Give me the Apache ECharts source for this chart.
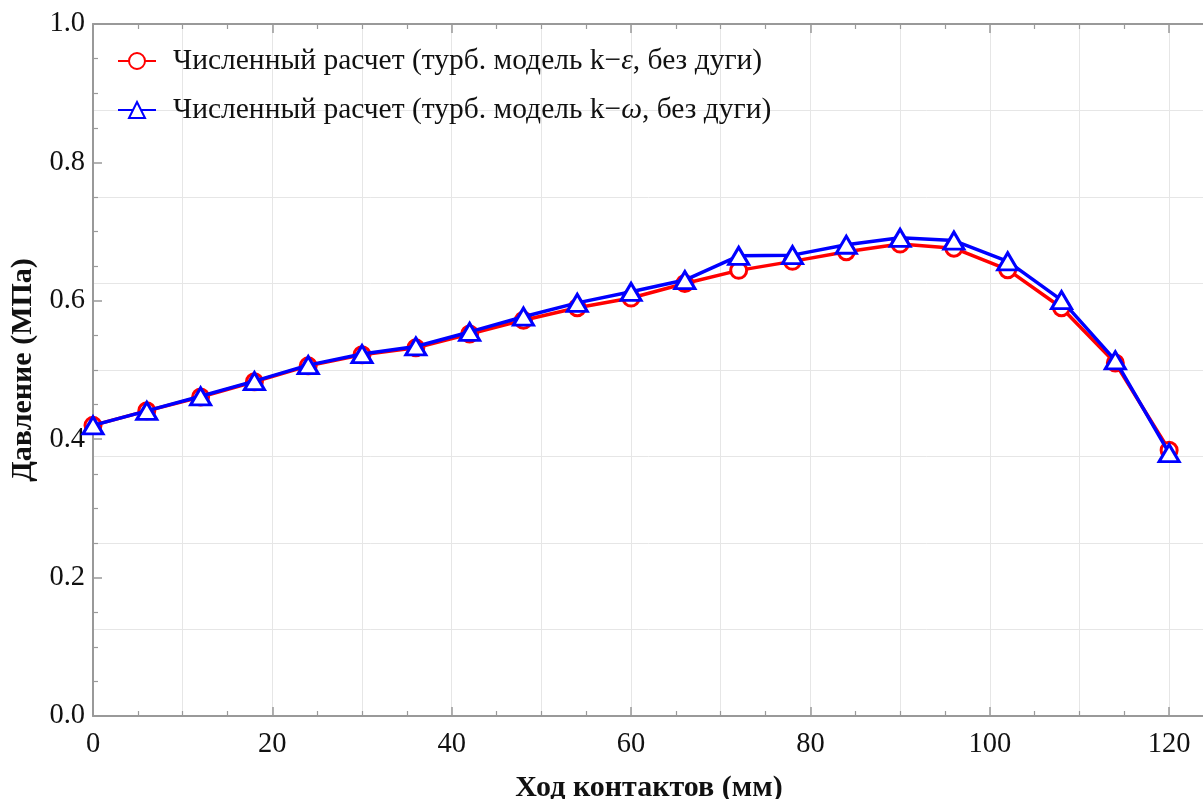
<!DOCTYPE html>
<html>
<head>
<meta charset="utf-8">
<script src="https://cdn.jsdelivr.net/npm/echarts@6/dist/echarts.min.js"></script>
<style>html,body{margin:0;padding:0;background:#fff}#c{width:1203px;height:799px}</style>
</head>
<body>
<div id="c"></div>
<script>
const xValues = [0,6,12,18,24,30,36,42,48,54,60,66,72,78,84,90,96,102,108,114,120];
const kEpsilon = [0.420,0.441,0.461,0.483,0.506,0.522,0.532,0.552,0.572,0.590,0.604,0.625,0.644,0.657,0.671,0.682,0.676,0.645,0.590,0.510,0.384];
const kOmega   = [0.420,0.441,0.462,0.484,0.507,0.523,0.534,0.555,0.577,0.597,0.613,0.630,0.665,0.666,0.681,0.691,0.687,0.657,0.601,0.514,0.380];
const seriesNames = ['Численный расчет (турб. модель k\u2212\u03b5, без дуги)','Численный расчет (турб. модель k\u2212\u03c9, без дуги)'];
const xTitle = 'Ход контактов (мм)';
const yTitle = 'Давление (МПа)';

const font = 'Liberation Serif';
const axisCol = '#999999';
const gridCol = '#e6e6e6';
const xMax = 124;

const chart = echarts.init(document.getElementById('c'));
const pair = (xs, ys) => xs.map((x,i)=>[x, ys[i]]);
const legendFont = 29.5;

chart.setOption({
  animation: false,
  backgroundColor: '#fff',
  grid: {left: 93, top: 24, width: 1112, height: 692, containLabel: false, outerBoundsMode: 'none'},
  legend: {
    left: 112, top: 41, orient: 'vertical', itemGap: 19, itemWidth: 38, itemHeight: 20,
    formatter: name => '{n|' + name.replace(/([\u03b5\u03c9])/, '}{it|$1}{n|') + '}',
    textStyle: {fontFamily: font, fontSize: legendFont, color: '#111', padding:[0,0,0,12],
      rich: {
        n: {fontFamily: font, fontSize: legendFont, color: '#111'},
        it: {fontFamily: font, fontSize: legendFont, color: '#111', fontStyle: 'italic'}
      }},
    data: seriesNames
  },
  xAxis: [
    {type:'value', position:'bottom', min:0, max:xMax, interval:20,
     name: xTitle, nameLocation:'middle', nameGap:57,
     nameTextStyle:{fontFamily:font, fontSize:30, fontWeight:'bold', color:'#111'},
     axisLine:{show:true, onZero:false, lineStyle:{color:axisCol, width:2}},
     axisTick:{show:true, inside:true, length:9, lineStyle:{color:axisCol, width:1.5}},
     minorTick:{show:true, splitNumber:4, length:5, lineStyle:{color:axisCol, width:1.2}},
     axisLabel:{fontFamily:font, fontSize:28.5, color:'#111', margin:14,
       formatter: v => (v % 20 === 0 && v <= 120) ? String(v) : ''},
     splitLine:{show:false}},
    {type:'value', position:'top', min:0, max:xMax, interval:20,
     axisLine:{show:true, onZero:false, lineStyle:{color:axisCol, width:2}},
     axisTick:{show:true, inside:true, length:9, lineStyle:{color:axisCol, width:1.5}},
     minorTick:{show:true, splitNumber:4, length:5, lineStyle:{color:axisCol, width:1.2}},
     axisLabel:{show:false}, splitLine:{show:false}},
    {type:'value', position:'bottom', min:0, max:xMax, interval:10,
     axisLine:{show:false}, axisTick:{show:false}, axisLabel:{show:false},
     splitLine:{show:true, lineStyle:{color:gridCol, width:1}}}
  ],
  yAxis: [
    {type:'value', position:'left', min:0, max:1, interval:0.2,
     name: yTitle, nameLocation:'middle', nameGap:50,
     nameTextStyle:{fontFamily:font, fontSize:30, fontWeight:'bold', color:'#111'},
     axisLine:{show:true, onZero:false, lineStyle:{color:axisCol, width:2}},
     axisTick:{show:true, inside:true, length:9, lineStyle:{color:axisCol, width:1.5}},
     minorTick:{show:true, splitNumber:4, length:5, lineStyle:{color:axisCol, width:1.2}},
     axisLabel:{fontFamily:font, fontSize:28.5, color:'#111', margin:8, formatter: v => v.toFixed(1)},
     splitLine:{show:false}},
    {type:'value', position:'left', min:0, max:1, interval:0.125,
     axisLine:{show:false}, axisTick:{show:false}, axisLabel:{show:false},
     splitLine:{show:true, lineStyle:{color:gridCol, width:1}}}
  ],
  series: [
    {name: seriesNames[0], type:'line', xAxisIndex:0, yAxisIndex:0, data: pair(xValues,kEpsilon),
     symbol:'circle', symbolSize:16, showAllSymbol:true,
     itemStyle:{color:'#fff', borderColor:'#ff0000', borderWidth:3},
     lineStyle:{color:'#ff0000', width:3.5}, z:3},
    {name: seriesNames[1], type:'line', xAxisIndex:0, yAxisIndex:0, data: pair(xValues,kOmega),
     symbol:'triangle', symbolSize:[20,17], showAllSymbol:true,
     itemStyle:{color:'#fff', borderColor:'#0000ff', borderWidth:3},
     lineStyle:{color:'#0000ff', width:3.5}, z:4}
  ]
});
</script>
</body>
</html>
